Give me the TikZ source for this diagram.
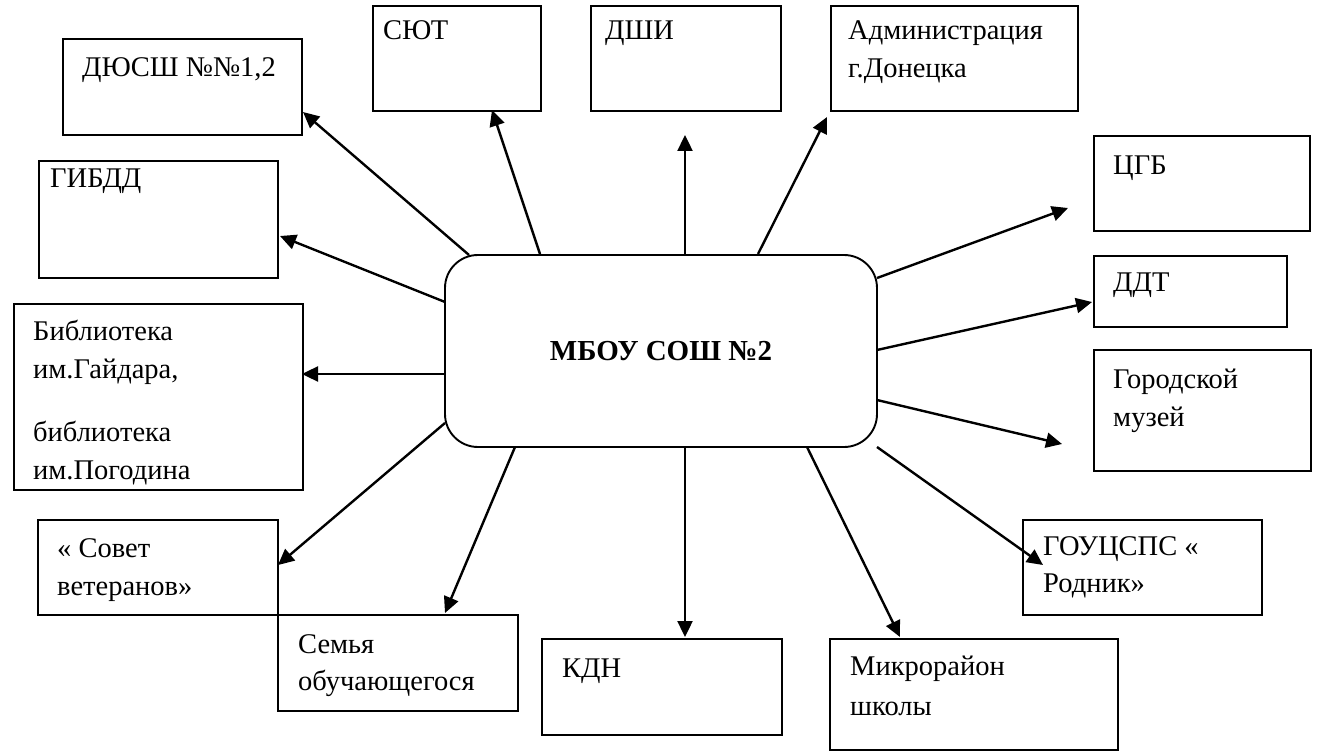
\documentclass[tikz,border=0pt]{standalone}
\usepackage{fontspec}
\setmainfont{Liberation Serif}
\usetikzlibrary{arrows.meta}
\begin{document}
\begin{tikzpicture}[x=1pt,y=-1pt,
  box/.style={draw, line width=1.9pt, inner sep=0pt, anchor=north west},
  lbl/.style={anchor=base west, inner sep=0pt, font=\rmfamily\fontsize{28.5}{37}\selectfont},
  arr/.style={line width=2.4pt, -{Triangle[length=16pt,width=15pt]}}]
\useasboundingbox (0,0) rectangle (1325,751);
% centre
\node[draw, rounded corners=33pt, line width=1.9pt, minimum width=432pt, minimum height=192pt, inner sep=0pt,
  font=\rmfamily\bfseries\fontsize{29}{34}\selectfont] (c) at (661,351) {МБОУ СОШ №2};
% boxes
\node[box, minimum width=239pt, minimum height=96pt] (dyussh) at (62,38) {};
\node[box, minimum width=168pt, minimum height=105pt] (syut) at (372,5) {};
\node[box, minimum width=190pt, minimum height=105pt] (dshi) at (590,5) {};
\node[box, minimum width=247pt, minimum height=105pt] (adm) at (830,5) {};
\node[box, minimum width=216pt, minimum height=95pt] (cgb) at (1093,135) {};
\node[box, minimum width=193pt, minimum height=71pt] (ddt) at (1093,255) {};
\node[box, minimum width=217pt, minimum height=121pt] (muz) at (1093,349) {};
\node[box, minimum width=239pt, minimum height=95pt] (rodnik) at (1022,519) {};
\node[box, minimum width=288pt, minimum height=111pt] (mikro) at (829,638) {};
\node[box, minimum width=240pt, minimum height=96pt] (kdn) at (541,638) {};
\node[box, minimum width=240pt, minimum height=96pt] (semya) at (277,614) {};
\node[box, minimum width=240pt, minimum height=95pt] (sovet) at (37,519) {};
\node[box, minimum width=289pt, minimum height=186pt] (bibl) at (13,303) {};
\node[box, minimum width=239pt, minimum height=117pt] (gibdd) at (38,160) {};
% labels
\node[lbl] (t1) at (82,77) {ДЮСШ №№1,2};
\node[lbl] (t2) at (383,40) {СЮТ};
\node[lbl] (t3) at (605,40) {ДШИ};
\node[lbl] (t4a) at (848,40) {Администрация};
\node[lbl] (t4b) at (848,78) {г.Донецка};
\node[lbl] (t5) at (1113,175) {ЦГБ};
\node[lbl] (t6) at (1113,292) {ДДТ};
\node[lbl] (t7a) at (1113,388) {Городской};
\node[lbl] (t7b) at (1113,426) {музей};
\node[lbl] (t8a) at (1043,555) {ГОУЦСПС «};
\node[lbl] (t8b) at (1043,592) {Родник»};
\node[lbl] (t9a) at (850,675) {Микрорайон};
\node[lbl] (t9b) at (850,715) {школы};
\node[lbl] (t10) at (562,677) {КДН};
\node[lbl] (t11a) at (298,653) {Семья};
\node[lbl] (t11b) at (298,690) {обучающегося};
\node[lbl] (t12a) at (57,557) {« Совет};
\node[lbl] (t12b) at (57,595) {ветеранов»};
\node[lbl] (t13a) at (33,340) {Библиотека};
\node[lbl] (t13b) at (33,378) {им.Гайдара,};
\node[lbl] (t13c) at (33,441) {библиотека};
\node[lbl] (t13d) at (33,479) {им.Погодина};
\node[lbl] (t14) at (50,188) {ГИБДД};
% connector end points
\coordinate (s1) at (469,255);  \coordinate (e1) at (303,112);
\coordinate (s2) at (540,254);  \coordinate (e2) at (492,110);
\coordinate (s3) at (685,254);  \coordinate (e3) at (685,135);
\coordinate (s4) at (758,254);  \coordinate (e4) at (827,117);
\coordinate (s5) at (877,278);  \coordinate (e5) at (1068,208);
\coordinate (s6) at (877,350);  \coordinate (e6) at (1092,302);
\coordinate (s7) at (877,400);  \coordinate (e7) at (1062,444);
\coordinate (s8) at (877,447);  \coordinate (e8) at (1043,565);
\coordinate (s9) at (807,447);  \coordinate (e9) at (900,637);
\coordinate (s10) at (685,447); \coordinate (e10) at (685,637);
\coordinate (s11) at (515,447); \coordinate (e11) at (445,613);
\coordinate (s12) at (445,423); \coordinate (e12) at (278,565);
\coordinate (s13) at (445,374); \coordinate (e13) at (302,374);
\coordinate (s14) at (445,302); \coordinate (e14) at (280,236);
\foreach \i in {1,...,14} { \draw[arr] (s\i) -- (e\i); }
\end{tikzpicture}
\end{document}
